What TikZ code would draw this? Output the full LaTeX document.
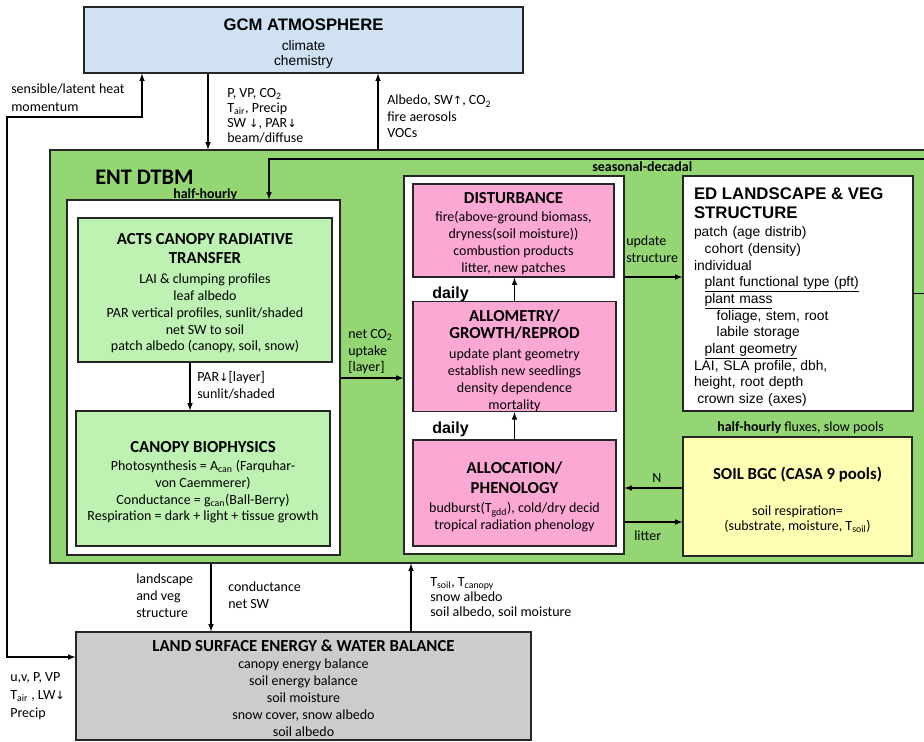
\documentclass[tikz,border=0pt]{standalone}
\usepackage{fontspec}
\setmainfont{Carlito}
\newfontfamily\arialf{Liberation Sans}
\newfontfamily\dejavu{DejaVu Sans}
\usepackage{tikz}
\usepackage{xcolor}
\tikzset{>=latex}
\usetikzlibrary{calc}

\definecolor{gcmblue}{RGB}{207,225,242}
\definecolor{entgreen}{RGB}{147,214,115}
\definecolor{leafgreen}{RGB}{190,242,178}
\definecolor{vegpink}{RGB}{251,168,213}
\definecolor{soilyellow}{RGB}{255,255,180}
\definecolor{lsgrey}{RGB}{204,204,204}

\newcommand{\arrdn}{{\dejavu\fontsize{8.5}{8}\selectfont ↓}}
\newcommand{\arrup}{{\dejavu\fontsize{8.5}{8}\selectfont ↑}}
\newcommand{\lo}[1]{\textsubscript{#1}}
\newcommand{\tp}[1]{\rule{0pt}{#1}}
\newcommand{\ttl}{\bfseries\fontsize{12.6}{12.6}\selectfont}
\newcommand{\edttl}{\arialf\bfseries\fontsize{12.6}{12.6}\selectfont}

\begin{document}
\begin{tikzpicture}[x=0.75pt, y=-0.75pt, font=\fontsize{10.5}{12.6}\selectfont,
    box/.style={draw=black!85, line width=0.9pt, inner sep=0pt, align=center},
    sz/.style 2 args={minimum width=#1*0.75pt, minimum height=#2*0.75pt},
    lbl/.style={anchor=north west, inner sep=0pt, align=left, font=\fontsize{10.5}{12.6}\selectfont},
    tag/.style={anchor=west, inner sep=0pt, font=\bfseries\fontsize{10.5}{12}\selectfont},
    daytag/.style={anchor=west, inner sep=0pt, font=\arialf\bfseries\fontsize{12}{12}\selectfont},
    conn/.style={->, line width=0.9pt}]
  \useasboundingbox (0,0) rectangle (924,742);
  \clip (0,0) rectangle (924,742);

  % atmosphere
  \node[box, fill=gcmblue, sz={439}{66}, font=\arialf\fontsize{10.3}{11.3}\selectfont] (gcm) at (303.5,40)
    {\tp{14pt}{\bfseries\fontsize{12.5}{13}\selectfont GCM ATMOSPHERE}\\[3.7pt] climate\\ chemistry};

  % ent model
  \node[box, fill=entgreen, sz={890}{413}] (ent) at (495,356.5) {};
  \node[anchor=west, inner sep=0pt, font=\bfseries\fontsize{16.7}{17}\selectfont] (entname) at (95,177) {ENT DTBM};
  \node[tag] (hh) at (173,195) {half-hourly};
  \node[tag] (sdtag) at (592,167) {seasonal-decadal};
  \node[tag] (hhsoil) at (717,428) {half-hourly \mdseries fluxes, slow pools};

  % fast processes
  \node[box, fill=white, sz={273}{355}] (fast) at (203.5,377.5) {};
  \node[box, fill=leafgreen, sz={254}{144}] (acts) at (205,290)
    {\tp{13.5pt}{\ttl ACTS CANOPY RADIATIVE}\\[1.6pt]{\ttl TRANSFER}\\[2.4pt]
     LAI \& clumping profiles\\ leaf albedo\\ PAR vertical profiles, sunlit/shaded\\
     net SW to soil\\ patch albedo (canopy, soil, snow)};
  \node[box, fill=leafgreen, sz={254}{135}] (cbio) at (203,478.5)
    {\tp{14pt}{\ttl CANOPY BIOPHYSICS}\\[1pt]
     Photosynthesis = A\lo{can} (Farquhar-\\ von Caemmerer)\\
     Conductance = g\lo{can}(Ball-Berry)\\ Respiration = dark + light + tissue growth};

  % daily processes
  \node[box, fill=white, sz={220}{378}] (slow) at (514,365) {};
  \node[box, fill=vegpink, sz={201}{93}] (dist) at (513.5,230.5)
    {\tp{13pt}{\ttl DISTURBANCE}\\[1pt] fire(above-ground biomass,\\ dryness(soil moisture))\\
     combustion products\\ litter, new patches};
  \node[box, fill=vegpink, sz={203}{109}] (allom) at (514.5,356.5)
    {\tp{15pt}{\ttl ALLOMETRY/}\\[0pt]{\ttl GROWTH/REPROD}\\[3pt] update plant geometry\\
     establish new seedlings\\ density dependence\\ mortality};
  \node[box, fill=vegpink, sz={203}{106}] (alloc) at (514.5,493)
    {\tp{15pt}{\ttl ALLOCATION/}\\[2.4pt]{\ttl PHENOLOGY}\\[1.6pt]
     budburst(T\lo{gdd}), cold/dry decid\\ tropical radiation phenology};
  \node[daytag] (daily1) at (432,294) {daily};
  \node[daytag] (daily2) at (432,429) {daily};

  % structure and soil
  \node[box, fill=white, sz={230}{235}, align=left, text width=156pt, inner xsep=8.25pt,
        font=\arialf\fontsize{10.4}{12.5}\selectfont] (ed) at (798,293.5)
    {\tp{14pt}{\edttl ED LANDSCAPE \& VEG}\\[1.7pt]{\edttl STRUCTURE}\\[1.7pt]
     patch (age distrib)\\ \hspace*{8pt}cohort (density)\\ individual\\
     \hspace*{8pt}\underline{plant functional type (pft)}\\ \hspace*{8pt}\underline{plant mass}\\
     \hspace*{17pt}foliage, stem, root\\ \hspace*{17pt}labile storage\\
     \hspace*{8pt}\underline{plant geometry}\\ LAI, SLA profile, dbh,\\ height, root depth\\
     \hspace*{2.5pt}crown size (axes)};
  \node[box, fill=soilyellow, sz={229}{119}, font=\fontsize{10.5}{11.5}\selectfont] (soil) at (797.5,496.5)
    {\tp{14pt}{\ttl SOIL BGC (CASA 9 pools)}\\[15.5pt] soil respiration=\\ (substrate, moisture, T\lo{soil})};

  % land surface
  \node[box, fill=lsgrey, sz={455}{108}, font=\fontsize{10.5}{12.75}\selectfont] (lsew) at (303.5,686)
    {\tp{12pt}{\ttl LAND SURFACE ENERGY \& WATER BALANCE}\\ canopy energy balance\\ soil energy balance\\
     soil moisture\\ snow cover, snow albedo\\ soil albedo};

  % connector positions
  \coordinate (xa) at (208,0);
  \coordinate (xb) at (378,0);
  \coordinate (lp1) at (142,117);
  \coordinate (lp2) at (7,657);
  \coordinate (sd) at (940,159);
  \coordinate (xc) at (269,0);
  \coordinate (xd) at (190,0);
  \coordinate (ya) at (0,378);
  \coordinate (yb) at (0,277);
  \coordinate (yc) at (0,488);
  \coordinate (yd) at (0,522);
  \coordinate (xe) at (211,0);
  \coordinate (xf) at (411,0);

  % connectors
  \draw[conn] (gcm.south -| xa) -- (ent.north -| xa);
  \draw[conn] (ent.north -| xb) -- (gcm.south -| xb);
  \draw[conn, <->] (gcm.south -| lp1) -- (lp1) -| (lp2) -- (lsew.west |- lp2);
  \draw[conn] (sd) -| (fast.north -| xc);
  \draw[conn] (acts.south -| xd) -- (cbio.north -| xd);
  \draw[conn] (fast.east |- ya) -- (slow.west |- ya);
  \draw[conn] (allom.north) -- (allom.north |- dist.south);
  \draw[conn] (alloc.north) -- (allom.south);
  \draw[conn] (slow.east |- yb) -- (ed.west |- yb);
  \draw[conn] (soil.west |- yc) -- (slow.east |- yc);
  \draw[conn] (slow.east |- yd) -- (soil.west |- yd);
  \draw[conn] (ent.south -| xe) -- (lsew.north -| xe);
  \draw[conn] (lsew.north -| xf) -- (ent.south -| xf);
  \draw[line width=0.9pt] (ed.east) -- ++(40,0);

  % connector labels
  \node[lbl, font=\fontsize{10.5}{11.3}\selectfont] (lbdown) at (227,88)
    {P, VP, CO\lo{2}\\ T\lo{air}, Precip\\ SW \arrdn, PAR\arrdn\\ beam/diffuse};
  \node[lbl, font=\fontsize{10.5}{12.3}\selectfont] (lbup) at (387,95) {Albedo, SW\arrup, CO\lo{2}\\ fire aerosols\\ VOCs};
  \node[lbl, font=\fontsize{10.5}{13}\selectfont] (lbheat) at (11,84) {sensible/latent heat\\ momentum};
  \node[lbl] (lbpar) at (197,371) {PAR\arrdn{}[layer]\\ sunlit/shaded};
  \node[lbl] (lbco2) at (348,329) {net CO\lo{2}\\ uptake\\ {[layer]}};
  \node[lbl] (lbupd) at (626,236) {update\\ structure};
  \node[lbl] (lbn) at (652,473) {N};
  \node[lbl] (lblit) at (634,531) {litter};
  \node[lbl] (lbland) at (136,574) {landscape\\ and veg\\ structure};
  \node[lbl] (lbcond) at (228,582) {conductance\\ net SW};
  \node[lbl, font=\fontsize{10.5}{11.5}\selectfont] (lbsoil) at (430,577)
    {T\lo{soil}, T\lo{canopy}\\ snow albedo\\ soil albedo, soil moisture};
  \node[lbl, font=\fontsize{10.5}{13.5}\selectfont] (lbmet) at (10,672) {u,v, P, VP\\ T\lo{air} , LW\arrdn\\ Precip};
\end{tikzpicture}
\end{document}
